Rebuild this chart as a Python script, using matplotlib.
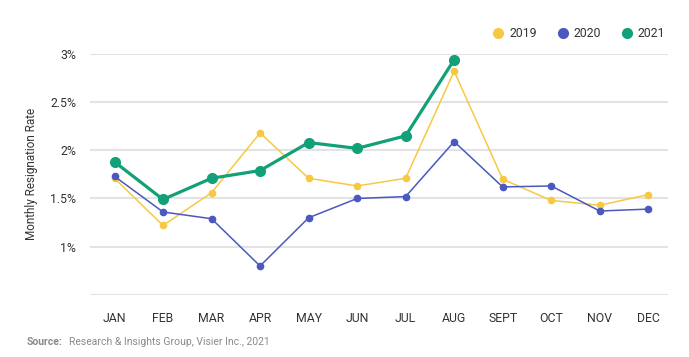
import numpy as np
import matplotlib
matplotlib.use("Agg")
from matplotlib import pyplot as plt
from matplotlib.ticker import FuncFormatter

plt.rcParams['font.family'] = ['Roboto', 'DejaVu Sans']

months = ['JAN', 'FEB', 'MAR', 'APR', 'MAY', 'JUN', 'JUL', 'AUG', 'SEPT', 'OCT', 'NOV', 'DEC']
rate_2019 = [1.71, 1.22, 1.56, 2.18, 1.71, 1.63, 1.71, 2.82, 1.70, 1.48, 1.43, 1.54]
rate_2020 = [1.73, 1.36, 1.29, 0.80, 1.30, 1.50, 1.52, 2.09, 1.62, 1.63, 1.37, 1.39]
rate_2021 = [1.88, 1.49, 1.71, 1.79, 2.08, 2.02, 2.15, 2.94]
yticks = [0.5, 1.0, 1.5, 2.0, 2.5, 3.0]

c19 = '#F6C945'
c20 = '#4A58C0'
c21 = '#12A078'

fig = plt.figure(figsize=(6.89, 3.57), dpi=100)
ax = fig.add_axes([0.131, 0.174, 0.838, 0.675])

x = np.arange(len(months))
ax.plot(x, rate_2019, color=c19, lw=1.1, marker='o', ms=4.5, label='2019', zorder=3)
ax.plot(x, rate_2020, color=c20, lw=1.1, marker='o', ms=4.5, label='2020', zorder=3)
ax.plot(x[:len(rate_2021)], rate_2021, color=c21, lw=2.3, marker='o', ms=7, label='2021', zorder=4)

ax.set_xlim(-0.5, 11.4)
ax.set_ylim(0.5, 3.0)
ax.set_yticks(yticks)
ax.yaxis.set_major_formatter(FuncFormatter(lambda v, p: '' if v < 0.9 else ('%g%%' % v)))
ax.set_xticks(x)
ax.set_xticklabels(months)
ax.grid(axis='y', color='#e3e3e3', lw=1.5, zorder=0)
ax.set_axisbelow(True)
for s in ax.spines.values():
    s.set_visible(False)
ax.tick_params(length=0, labelsize=8.8, colors='#333333')
ax.tick_params(axis='x', pad=12)
ax.tick_params(axis='y', pad=10)
ax.set_ylabel('Monthly Resignation Rate', fontsize=8.5, color='#333333')
ax.yaxis.set_label_coords(-0.09, 0.5)

leg = ax.legend(loc='lower right', bbox_to_anchor=(1.015, 1.01), ncol=3, frameon=False,
                fontsize=8.8, handlelength=0, handletextpad=0.9, columnspacing=2.1)
for h in leg.legend_handles:
    h.set_markersize(7)
    h.set_linewidth(0)
for t in leg.get_texts():
    t.set_color('#333333')

fig.text(0.039, 0.033, 'Source:', fontsize=7.5, color='#8a8a8a', fontweight='bold')
fig.text(0.100, 0.033, 'Research & Insights Group, Visier Inc., 2021', fontsize=7.5, color='#8a8a8a')

fig.savefig('out.png', dpi=100)
